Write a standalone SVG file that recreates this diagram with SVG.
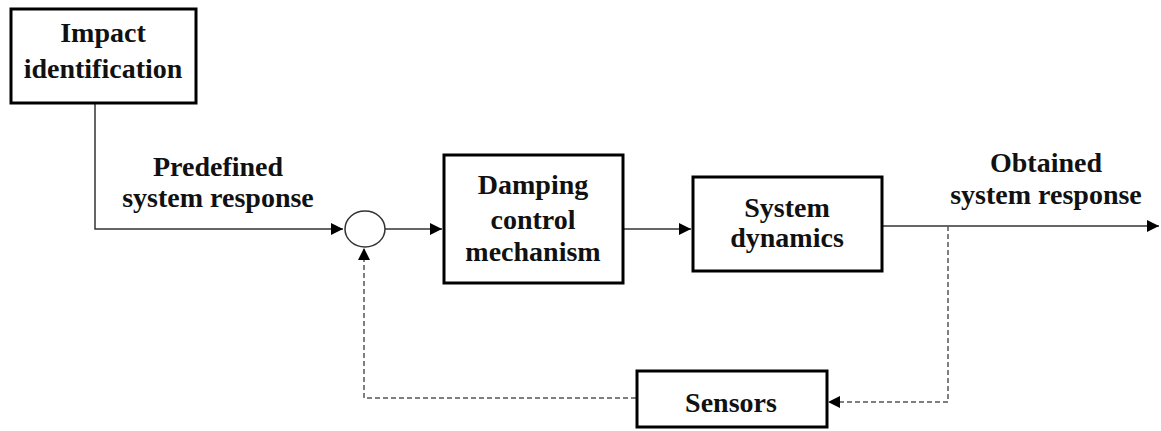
<svg xmlns="http://www.w3.org/2000/svg" width="1161" height="431" viewBox="0 0 1161 431">
  <defs>
    <style>
      .box { fill: #fff; stroke: #000; stroke-width: 3; }
      .lbl { font-family: "Liberation Serif", "Times New Roman", serif; font-weight: bold; font-size: 28px; fill: #111; text-anchor: middle; }
      .wire { fill: none; stroke: #333; stroke-width: 1.5; }
      .dash { fill: none; stroke: #555; stroke-width: 1.5; stroke-dasharray: 5 3; }
    </style>
    <marker id="arrow" viewBox="0 0 10 10" refX="10" refY="5" markerWidth="12" markerHeight="12" markerUnits="userSpaceOnUse" orient="auto">
      <path d="M0,0 L10,5 L0,10 Z" fill="#000"/>
    </marker>
  </defs>
  <rect width="1161" height="431" fill="#fff"/>

  <!-- connectors -->
  <g id="connectors">
    <polyline class="wire" points="95,103 95,229 343,229" marker-end="url(#arrow)"/>
    <line class="wire" x1="385" y1="229" x2="442" y2="229" marker-end="url(#arrow)"/>
    <line class="wire" x1="623" y1="229" x2="691" y2="229" marker-end="url(#arrow)"/>
    <line class="wire" x1="882" y1="226" x2="1159" y2="226" marker-end="url(#arrow)"/>
    <polyline class="dash" points="948,226 948,402 828,402" marker-end="url(#arrow)"/>
    <polyline class="dash" points="636,398 364,398 364,248" marker-end="url(#arrow)"/>
  </g>

  <!-- free labels on the signal lines -->
  <g id="label-predefined">
    <text class="lbl" x="218" y="176">Predefined</text>
    <text class="lbl" x="218" y="207">system response</text>
  </g>
  <g id="label-obtained">
    <text class="lbl" x="1046" y="172">Obtained</text>
    <text class="lbl" x="1046" y="204">system response</text>
  </g>

  <g id="impact-identification">
    <rect class="box" x="11" y="9" width="185" height="94"/>
    <text class="lbl" x="103" y="42">Impact</text>
    <text class="lbl" x="103" y="78">identification</text>
  </g>

  <g id="summing-junction">
    <ellipse cx="365" cy="229" rx="20" ry="18" fill="#fff" stroke="#333" stroke-width="1.5"/>
  </g>

  <g id="damping-control">
    <rect class="box" x="444" y="155" width="179" height="128"/>
    <text class="lbl" x="533" y="194">Damping</text>
    <text class="lbl" x="533" y="229">control</text>
    <text class="lbl" x="533" y="261">mechanism</text>
  </g>

  <g id="system-dynamics">
    <rect class="box" x="693" y="177" width="189" height="94"/>
    <text class="lbl" x="787" y="217">System</text>
    <text class="lbl" x="787" y="247">dynamics</text>
  </g>

  <g id="sensors">
    <rect class="box" x="637" y="371" width="190" height="56"/>
    <text class="lbl" x="731" y="412">Sensors</text>
  </g>
</svg>
